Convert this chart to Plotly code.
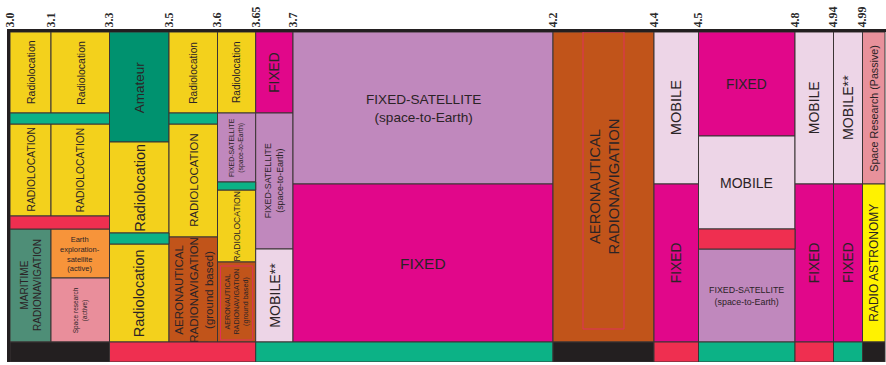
import plotly.graph_objects as go

# band edges as printed on the chart (GHz)
freq_labels = ["3.0", "3.1", "3.3", "3.5", "3.6", "3.65", "3.7", "4.2",
               "4.4", "4.5", "4.8", "4.94", "4.99", "5.0"]

# allocations inside each band: (top, bottom, service, label)
# vertical units: 0 = top of chart, 310 = bottom of the allocation area
band_3000 = [(0, 81, "radloc", "Radiolocation"),
             (92, 184, "radloc", "RADIOLOCATION"),
             (197, 310, "maritime", "MARITIME<br>RADIONAVIGATION")]
band_3100 = [(0, 81, "radloc", "Radiolocation"),
             (92, 184, "radloc", "RADIOLOCATION"),
             (197, 246, "ees", "Earth<br>exploration-<br>satellite<br>(active)"),
             (246, 310, "srs", "Space research<br>(active)")]
band_3300 = [(0, 110, "amateur", "Amateur"),
             (110, 201, "radloc", "Radiolocation"),
             (212, 310, "radloc", "Radiolocation")]
band_3500 = [(0, 81, "radloc", "Radiolocation"),
             (92, 205, "radloc", "RADIOLOCATION"),
             (205, 310, "aero", "AERONAUTICAL<br>RADIONAVIGATION<br>(ground based)")]
band_3600 = [(0, 81, "radloc", "Radiolocation"),
             (81, 150, "fss", "FIXED-SATELLITE<br>(space-to-Earth)"),
             (158, 230, "radloc", "RADIOLOCATION"),
             (230, 310, "aero", "AERONAUTICAL<br>RADIONAVIGATION<br>(ground based)")]
band_3650 = [(0, 81, "fixed", "FIXED"),
             (81, 217, "fss", "FIXED-SATELLITE<br>(space-to-Earth)"),
             (217, 310, "mobile", "MOBILE**")]
band_3700 = [(0, 152, "fss", "FIXED-SATELLITE<br>(space-to-Earth)"),
             (152, 310, "fixed", "FIXED")]
band_4200 = [(0, 310, "aero", "AERONAUTICAL<br>RADIONAVIGATION")]
band_4400 = [(0, 152, "mobile", "MOBILE"),
             (152, 310, "fixed", "FIXED")]
band_4500 = [(0, 104, "fixed", "FIXED"),
             (104, 197, "mobile", "MOBILE"),
             (217, 310, "fss", "FIXED-SATELLITE<br>(space-to-Earth)")]
band_4800 = [(0, 152, "mobile", "MOBILE"),
             (152, 310, "fixed", "FIXED")]
band_4940 = [(0, 152, "mobile", "MOBILE**"),
             (152, 310, "fixed", "FIXED")]
band_4990 = [(0, 152, "srs_passive", "Space Research (Passive)"),
             (152, 310, "radio_astro", "RADIO ASTRONOMY")]

bands = [band_3000, band_3100, band_3300, band_3500, band_3600, band_3650,
         band_3700, band_4200, band_4400, band_4500, band_4800, band_4940, band_4990]

# activity strips: (first band, last band, top, bottom, kind)
strips = [(0, 1, 81, 92, "green"), (0, 1, 184, 197, "red"),
          (2, 2, 201, 212, "green"), (3, 3, 81, 92, "green"),
          (4, 4, 150, 158, "green"), (9, 9, 197, 217, "red")]
bottom_row = [(0, 1, "black"), (2, 4, "red"), (5, 6, "green"), (7, 7, "black"),
              (8, 8, "red"), (9, 9, "green"), (10, 10, "red"), (11, 11, "green"),
              (12, 12, "black")]

# ---- styling ----
band_widths = [41, 58.5, 59.5, 48.5, 38.2, 37.3, 260, 101, 44.5, 96.5, 38.5, 29, 22.5]
font_sizes = [[10.5, 10.3, 10], [10.5, 10.3, 7.5, 6.5], [13.5, 14.5, 14.5], [10.2, 11.4, 11.5],
              [10.2, 6.9, 8.6, 7.2], [13.8, 8.9, 14.2], [13.6, 15.5], [14.8], [14.6, 13.8],
              [13.8, 14, 8.9], [14, 13.8], [14.2, 13.8], [10.7, 12]]
horizontal = {(1, 2), (6, 0), (6, 1), (9, 0), (9, 1), (9, 2)}
outlined = {(4, 3): (3, 4, 2), (7, 0): (30, 0, 13)}  # x pad, top pad, bottom pad

colors = {
    "radloc": "#F3D11C", "amateur": "#00926F", "maritime": "#4E8E77",
    "ees": "#F7943A", "srs": "#E98E9B", "aero": "#C1541A", "fss": "#C088BD",
    "fixed": "#E1078A", "mobile": "#EDD5E7", "srs_passive": "#E8919B",
    "radio_astro": "#FFF200", "green": "#0CB286", "red": "#EF2F50",
    "black": "#231F20",
}
text_font = "Liberation Sans, Arial, sans-serif"
text_color = "#2b2326"
line_color = "#3b3434"

edges = [0]
for w in band_widths:
    edges.append(edges[-1] + w)

bx, bw, bbase, bh, bc = [], [], [], [], []


def add_block(first, last, top, bottom, key):
    x0, x1 = edges[first], edges[last + 1]
    bx.append((x0 + x1) / 2)
    bw.append(x1 - x0)
    bbase.append(top)
    bh.append(bottom - top)
    bc.append(colors[key])


annotations = []
shapes = []
for i, cells in enumerate(bands):
    for j, (top, bottom, service, label) in enumerate(cells):
        add_block(i, i, top, bottom, service)
        annotations.append(dict(
            x=(edges[i] + edges[i + 1]) / 2, y=(top + bottom) / 2,
            xref="x", yref="y", text=label, showarrow=False,
            textangle=0 if (i, j) in horizontal else -90,
            font=dict(family=text_font, size=font_sizes[i][j], color=text_color),
        ))
        if (i, j) in outlined:
            px_, pt, pb = outlined[(i, j)]
            shapes.append(dict(type="rect", xref="x", yref="y",
                               x0=edges[i] + px_, x1=edges[i + 1] - px_,
                               y0=top + pt, y1=bottom - pb,
                               line=dict(color="#E0305A", width=1)))

for first, last, top, bottom, kind in strips:
    add_block(first, last, top, bottom, kind)
for first, last, kind in bottom_row:
    add_block(first, last, 310, 330, kind)

fig = go.Figure(go.Bar(
    x=bx, y=bh, base=bbase, width=bw,
    marker=dict(color=bc, line=dict(color=line_color, width=1)),
    hoverinfo="skip", showlegend=False,
))

fig.update_layout(
    width=886, height=365,
    margin=dict(l=10, r=0, t=32, b=3),
    barmode="overlay",
    plot_bgcolor="white", paper_bgcolor="white",
    annotations=annotations, shapes=shapes,
    xaxis=dict(
        range=[0, edges[-1] + 1], side="top", automargin=False,
        tickvals=edges, ticktext=freq_labels, tickangle=-90,
        tickfont=dict(family="Liberation Serif, Times New Roman, serif", size=12,
                      color="#2b2b2b", weight="bold"),
        ticklabelstandoff=-1,
        showgrid=False, zeroline=False, ticks="",
        showline=True, linewidth=3, linecolor="#231F20",
    ),
    yaxis=dict(
        range=[330, 0], showticklabels=False, showgrid=False, zeroline=False,
        automargin=False, ticks="", showline=True, linewidth=3, linecolor="#231F20",
    ),
)

# page body has a default 8px margin; drop it so the figure sits at the window corner
fig.write_html("out.html", config={"displayModeBar": False},
               post_script="document.body.style.margin='0';")
